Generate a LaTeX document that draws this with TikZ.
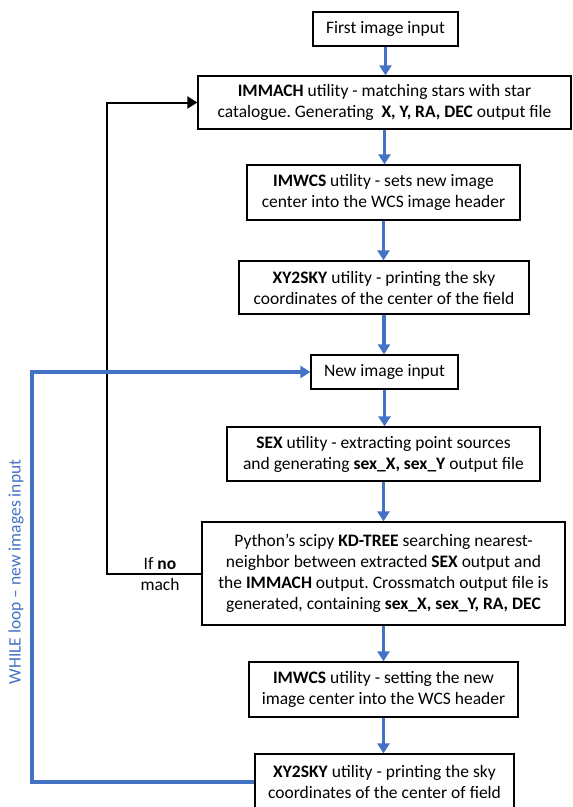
\documentclass[tikz,border=0pt]{standalone}
\usepackage{fontspec}
\setmainfont{Carlito}
\frenchspacing
\usetikzlibrary{positioning}
\usetikzlibrary{arrows.meta}
\definecolor{loopblue}{HTML}{4472C4}

\begin{document}
\begin{tikzpicture}[x=1pt,y=-1pt,>={Triangle[length=10pt,width=12pt]},
  box/.style={draw,line width=1.3pt,inner sep=0pt,align=center,font=\fontsize{17.5}{21}\selectfont},
  flow/.style={->,loopblue,line width=3.5pt},
  back/.style={->,line width=2pt}]
\useasboundingbox (0,0) rectangle (573,807);

\node[box,minimum width=145,minimum height=34] (first)   at (385.5,29)  {First image input};
\node[box,minimum width=373,minimum height=53] (immach)  at (384.5,102.5) {\textbf{IMMACH} utility - matching stars with star\\catalogue. Generating \ \textbf{X, Y, RA, DEC} output file};
\node[box,minimum width=273,minimum height=55] (imwcs)   at (383.5,192.5) {\textbf{IMWCS} utility - sets new image\\center into the WCS image header};
\node[box,minimum width=290,minimum height=53] (xysky)   at (384,287.5) {\textbf{XY2SKY} utility - printing the sky\\coordinates of the center of the field};
\node[box,minimum width=147,minimum height=34] (newimg)  at (384.5,372) {New image input};
\node[box,minimum width=313,minimum height=54] (sex)     at (383.5,454) {\textbf{SEX} utility - extracting point sources\\and generating \textbf{sex\_X, sex\_Y} output file};
\node[box,minimum width=363,minimum height=103] (kdtree) at (383.5,573.5) {Python’s scipy \textbf{KD-TREE} searching nearest-\\neighbor between extracted \textbf{SEX} output and\\the \textbf{IMMACH} output. Crossmatch output file is\\generated, containing \textbf{sex\_X, sex\_Y, RA, DEC}};
\node[box,minimum width=269,minimum height=55] (imwcsb)  at (383.5,689.5) {\textbf{IMWCS} utility - setting the new\\image center into the WCS header};
\node[box,minimum width=259,minimum height=56] (xyskyb)  at (384.5,782) {\textbf{XY2SKY} utility - printing the sky\\coordinates of the center of field};

\coordinate (machx) at (107,0);
\coordinate (loopx) at (32,0);

% main flow
\draw[flow] (first.south) -- (first.south |- immach.north);
\draw[flow] (immach.south) -- (immach.south |- imwcs.north);
\draw[flow] (imwcs.south) -- (imwcs.south |- xysky.north);
\draw[flow] (xysky.south) -- (xysky.south |- newimg.north);
\draw[flow] (newimg.south) -- (newimg.south |- sex.north);
\draw[flow] (sex.south) -- (sex.south |- kdtree.north);
\draw[flow] (kdtree.south) -- (kdtree.south |- imwcsb.north);
\draw[flow] (imwcsb.south) -- (imwcsb.south |- xyskyb.north);

% no match -> back to IMMACH
\draw[back] (kdtree.west) -- (kdtree.west -| machx) |- (immach.west);
\node[align=center,font=\fontsize{17.5}{21}\selectfont] (nomatch) at (160,574) {If \textbf{no}\\mach};

% while loop
\draw[flow] (xyskyb.west) -- (xyskyb.west -| loopx) |- (newimg.west);
\node[rotate=90,text=loopblue,font=\fontsize{17.5}{20}\selectfont] (whilelbl) at (16,572) {WHILE loop -- new images input};
\end{tikzpicture}
\end{document}
